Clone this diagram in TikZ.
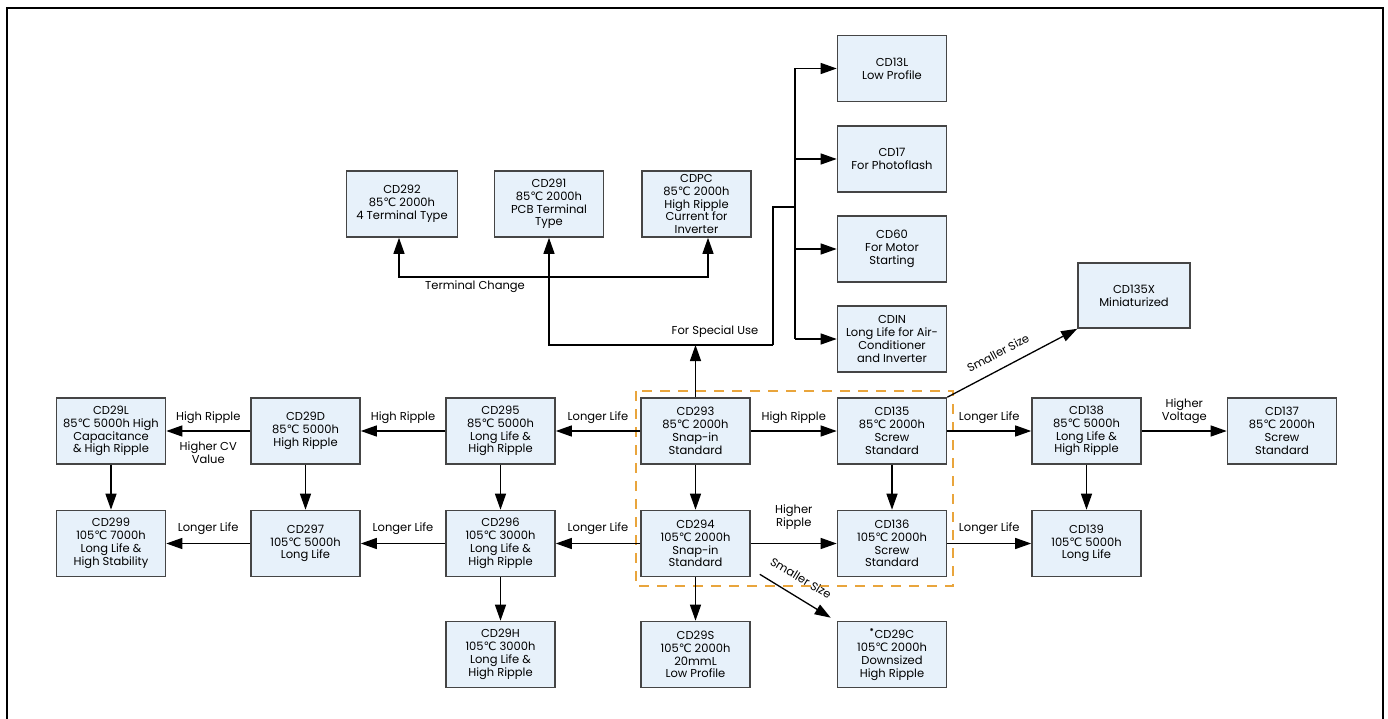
\documentclass[tikz,border=0pt]{standalone}
\usepackage{fontspec}
\setmainfont{Poppins}
\newfontfamily\degfont{DejaVu Sans}
\newcommand{\dC}{{\degfont ℃}}
\usetikzlibrary{arrows.meta}
\definecolor{seriesfill}{HTML}{E7F1FA}
\definecolor{seriesline}{HTML}{454545}
\definecolor{stdorange}{HTML}{E9A53C}

\begin{document}
\begin{tikzpicture}[x=1pt, y=-1pt, >={Triangle[length=16pt,width=11pt]},
    series/.style={draw=seriesline, fill=seriesfill, line width=1.6pt, minimum width=109pt, minimum height=66pt, align=center, inner sep=1pt, font=\fontsize{11.5}{12.8}\selectfont},
    lbl/.style={font=\fontsize{11.5}{13}\selectfont, align=center, inner sep=1pt},
    link/.style={line width=1.3pt}]
  \useasboundingbox (0,0) rectangle (1388,719);
  %Frame
  \draw[line width=2pt] (7,719) -- (7,8) -- (1383,8) -- (1383,719);
  %Standard series
  \draw[stdorange, line width=2.2pt, dash pattern=on 10pt off 8pt] (636,391) rectangle (953,586);
  %Row 1
  \node[series] (cd29l) at (111,431) {CD29L\\85\dC{} 5000h High\\Capacitance\\\& High Ripple};
  \node[series] (cd29d) at (305.5,431) {CD29D\\85\dC{} 5000h\\High Ripple};
  \node[series] (cd295) at (500.5,431) {CD295\\85\dC{} 5000h\\Long Life \&\\High Ripple};
  \node[series] (cd293) at (695.5,431) {CD293\\85\dC{} 2000h\\Snap-in\\Standard};
  \node[series] (cd135) at (892,431) {CD135\\85\dC{} 2000h\\Screw\\Standard};
  \node[series] (cd138) at (1086.5,431) {CD138\\85\dC{} 5000h\\Long Life \&\\High Ripple};
  \node[series] (cd137) at (1282,431) {CD137\\85\dC{} 2000h\\Screw\\Standard};
  %Row 2
  \node[series] (cd299) at (111,543.5) {CD299\\105\dC{} 7000h\\Long Life \&\\High Stability};
  \node[series] (cd297) at (305.5,543.5) {CD297\\105\dC{} 5000h\\Long Life};
  \node[series] (cd296) at (500.5,543.5) {CD296\\105\dC{} 3000h\\Long Life \&\\High Ripple};
  \node[series] (cd294) at (695.5,543.5) {CD294\\105\dC{} 2000h\\Snap-in\\Standard};
  \node[series] (cd136) at (892,543.5) {CD136\\105\dC{} 2000h\\Screw\\Standard};
  \node[series] (cd139) at (1086.5,543.5) {CD139\\105\dC{} 5000h\\Long Life};
  %Row 3
  \node[series] (cd29h) at (500.5,654.5) {CD29H\\105\dC{} 3000h\\Long Life \&\\High Ripple};
  \node[series] (cd29s) at (695.5,654.5) {CD29S\\105\dC{} 2000h\\20mmL\\Low Profile};
  \node[series] (cd29c) at (892,654.5) {\textsuperscript{\textbf{*}}CD29C\\105\dC{} 2000h\\Downsized\\High Ripple};
  %Terminal types
  \node[series, minimum width=111pt] (cd292) at (402,204) {CD292\\85\dC{} 2000h\\4 Terminal Type};
  \node[series] (cd291) at (549,204) {CD291\\85\dC{} 2000h\\PCB Terminal\\Type};
  \node[series] (cdpc) at (696.5,204) {CDPC\\85\dC{} 2000h\\High Ripple\\Current for\\Inverter};
  %Special use
  \node[series] (cd13l) at (892,68.5) {CD13L\\Low Profile};
  \node[series] (cd17) at (892,159) {CD17\\For Photoflash};
  \node[series] (cd60) at (892,249) {CD60\\For Motor\\Starting};
  \node[series] (cdin) at (892,339) {CDIN\\Long Life for Air-\\Conditioner\\and Inverter};
  \node[series, minimum width=112pt, minimum height=65pt] (cd135x) at (1134,295.5) {CD135X\\Miniaturized};
  %Horizontal links
  \draw[->, link] (cd293) -- node[lbl, above=6pt] {Longer Life} (cd295);
  \draw[->, link] (cd295) -- node[lbl, above=6pt] {High Ripple} (cd29d);
  \draw[->, link] (cd29d) -- node[lbl, above=6pt] {High Ripple} node[lbl, below=9pt] {Higher CV\\Value} (cd29l);
  \draw[->, link] (cd293) -- node[lbl, above=6pt] {High Ripple} (cd135);
  \draw[->, link] (cd135) -- node[lbl, above=6pt] {Longer Life} (cd138);
  \draw[->, link] (cd138) -- node[lbl, above=6pt] {Higher\\Voltage} (cd137);
  \draw[->, link] (cd294) -- node[lbl, above=7pt] {Longer Life} (cd296);
  \draw[->, link] (cd296) -- node[lbl, above=7pt] {Longer Life} (cd297);
  \draw[->, link] (cd297) -- node[lbl, above=7pt] {Longer Life} (cd299);
  \draw[->, link] (cd294) -- node[lbl, above=12pt] {Higher\\Ripple} (cd136);
  \draw[->, link] (cd136) -- node[lbl, above=7pt] {Longer Life} (cd139);
  %Vertical links
  \draw[->, link] (cd29l) -- (cd299);
  \draw[->, link] (cd29d) -- (cd297);
  \draw[->, link] (cd295) -- (cd296);
  \draw[->, link] (cd296) -- (cd29h);
  \draw[->, link] (cd293) -- (cd294);
  \draw[->, link] (cd294) -- (cd29s);
  \draw[->, link] (cd135) -- (cd136);
  \draw[->, link] (cd138) -- (cd139);
  %Smaller size
  \draw[->, link] (cd135.north east) -- (cd135x.south west);
  \node[lbl, rotate=28] (smallerx) at (998,353) {Smaller Size};
  \draw[->, link] ([xshift=9pt,yshift=3pt]cd294.south east) -- ([xshift=-6pt,yshift=3pt]cd29c.north west);
  \node[lbl, rotate=-31] (smallerc) at (801,578) {Smaller Size};
  %For special use
  \coordinate (special) at (695.5,345);
  \coordinate (bend) at (773,345);
  \coordinate (bus) at (795,207);
  \draw[->, link] (cd293) -- (special);
  \draw[->, link] (bend) -- (special) -| (cd291);
  \draw[link] (bend) -- (bend |- bus) -- (bus);
  \node[lbl] (speciallbl) at (715,332) {For Special Use};
  \draw[link] (bus |- cd13l) -- (bus |- cdin);
  \foreach \n in {cd13l, cd17, cd60, cdin}
    \draw[->, link] (bus |- \n) -- (\n);
  %Terminal change
  \coordinate (tcleft) at (399,277);
  \coordinate (tcright) at (708,277);
  \draw[<->, link] (tcleft |- cd292.south) -- (tcleft) -- (tcright) -- (tcright |- cdpc.south);
  \node[lbl] (tclbl) at (475,287) {Terminal Change};
\end{tikzpicture}
\end{document}
